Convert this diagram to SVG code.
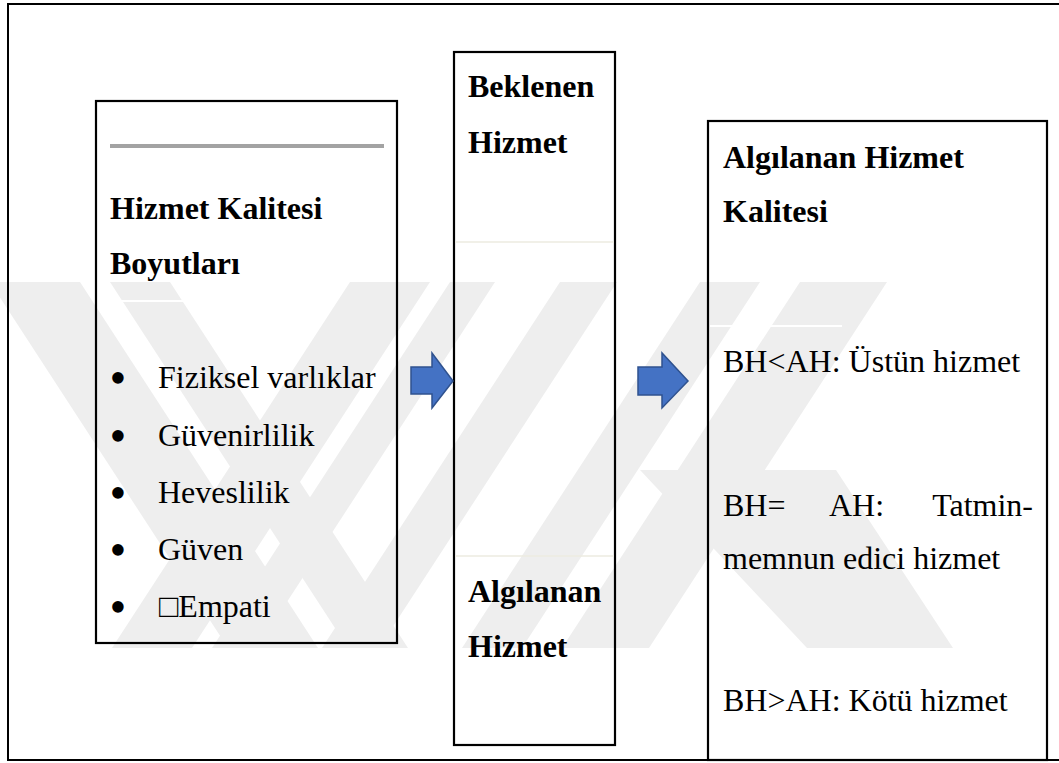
<svg xmlns="http://www.w3.org/2000/svg" width="1059" height="763" viewBox="0 0 1059 763">
  <style>
    .frame { fill: none; stroke: #000; stroke-width: 2; }
    .box { fill: none; stroke: #000; stroke-width: 2.2; }
    .title { font-family: "Liberation Serif", "Times New Roman", serif; font-size: 32px; font-weight: bold; fill: #000; }
    .body { font-family: "Liberation Serif", "Times New Roman", serif; font-size: 32px; fill: #000; }
    .bullet { font-family: "Liberation Serif", "Times New Roman", serif; font-size: 48px; fill: #000; text-anchor: middle; }
    .rule { stroke: #a3a3a3; stroke-width: 4; }
    .gap { stroke: #fff; stroke-width: 2; }
    .split { stroke: #ecebe0; stroke-width: 1.5; }
    .band { fill: #eeeeee; }
    .arrow { fill: #4472c4; stroke: #2f528f; stroke-width: 1.5; stroke-linejoin: miter; }
  </style>

  <rect width="1059" height="763" fill="#fff"/>

  <!-- faint background mark -->
  <g id="watermark">
    <polygon class="band" points="-10,282 80,282 318,648 228,648"/>
    <polygon class="band" points="110,282 170,282 408,648 348,648"/>
    <polygon class="band" points="350,282 430,282 192,648 112,648"/>
    <polygon class="band" points="450,282 495,282 257,648 212,648"/>
    <polygon class="band" points="560,282 617,282 379,648 322,648"/>
    <polygon class="band" points="700,282 760,282 522,648 462,648"/>
    <polygon class="band" points="800,282 887,282 649,648 562,648"/>
    <polygon class="band" points="640,470 836,470 953,648 807,648"/>
  </g>

  <!-- outer frame -->
  <rect class="frame" x="8" y="4" width="1060" height="756"/>

  <g id="node-boyutlar">
    <rect class="box" x="96" y="101" width="301" height="542"/>
    <line class="rule" x1="110" y1="146" x2="384" y2="146"/>
    <line class="gap" x1="98" y1="301" x2="190" y2="301"/>
    <text class="title" x="110" y="219">Hizmet Kalitesi</text>
    <text class="title" x="110" y="274">Boyutları</text>
    <text class="bullet" x="118" y="394">•</text>
    <text class="body" x="158" y="388">Fiziksel varlıklar</text>
    <text class="bullet" x="118" y="452">•</text>
    <text class="body" x="158" y="446">Güvenirlilik</text>
    <text class="bullet" x="118" y="509">•</text>
    <text class="body" x="158" y="503">Heveslilik</text>
    <text class="bullet" x="118" y="566">•</text>
    <text class="body" x="158" y="560">Güven</text>
    <text class="bullet" x="118" y="623">•</text>
    <text class="body" x="159" y="617">□Empati</text>
  </g>

  <g id="node-hizmet">
    <rect class="box" x="454" y="52" width="161" height="693"/>
    <line class="split" x1="455" y1="242" x2="614" y2="242"/>
    <line class="split" x1="455" y1="556" x2="614" y2="556"/>
    <text class="title" x="468" y="97">Beklenen</text>
    <text class="title" x="468" y="153">Hizmet</text>
    <text class="title" x="468" y="602">Algılanan</text>
    <text class="title" x="468" y="657">Hizmet</text>
  </g>

  <g id="node-kalite">
    <rect class="box" x="708" y="121" width="339" height="639"/>
    <line class="gap" x1="710" y1="326" x2="842" y2="326"/>
    <text class="title" x="723" y="168">Algılanan Hizmet</text>
    <text class="title" x="723" y="222">Kalitesi</text>
    <text class="body" x="723" y="372">BH&lt;AH: Üstün hizmet</text>
    <text class="body" x="723" y="516">BH=</text>
    <text class="body" x="829" y="516">AH:</text>
    <text class="body" x="1033" y="516" text-anchor="end">Tatmin-</text>
    <text class="body" x="723" y="569">memnun edici hizmet</text>
    <text class="body" x="723" y="711">BH&gt;AH: Kötü hizmet</text>
  </g>

  <g id="connectors">
    <path class="arrow" d="M411,367 H432 V353 L453,381 L432,408 V394 H411 Z"/>
    <path class="arrow" d="M638,367 H662 V353 L688,381 L662,408 V395 H638 Z"/>
  </g>
</svg>
